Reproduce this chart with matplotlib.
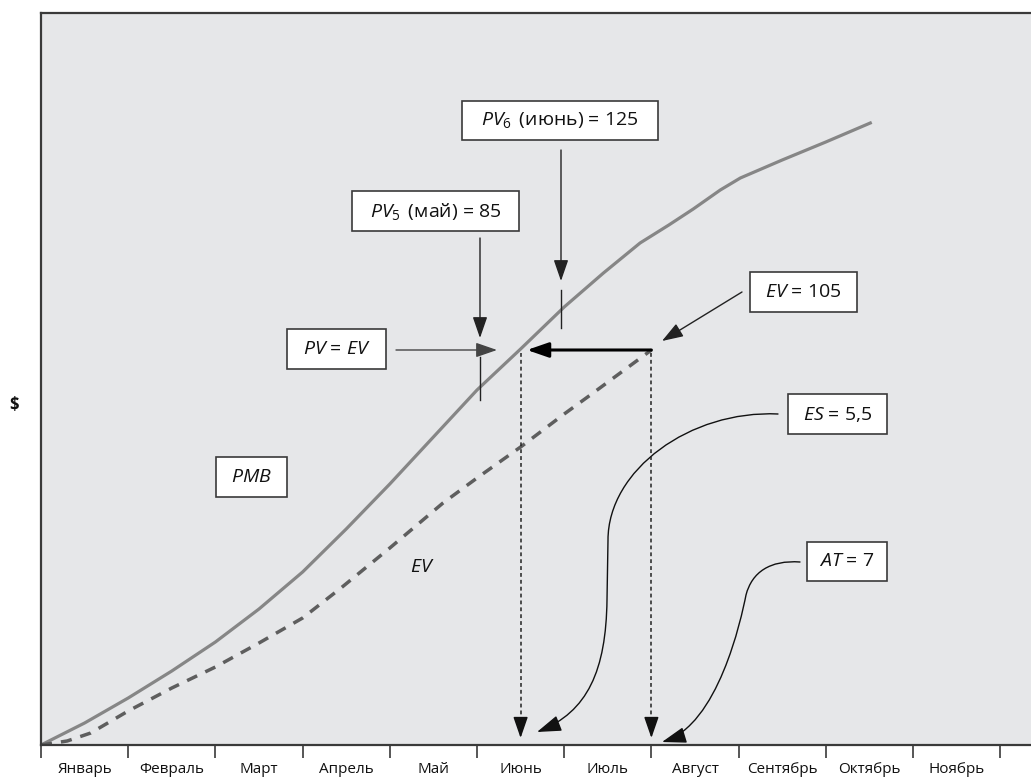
import matplotlib
matplotlib.use("Agg")
import matplotlib.pyplot as plt
from matplotlib.patches import Rectangle, FancyArrowPatch
from matplotlib.path import Path

plt.rcParams['font.family'] = ['Open Sans', 'DejaVu Sans']
plt.rcParams['mathtext.fontset'] = 'custom'
plt.rcParams['mathtext.rm'] = 'Open Sans'
plt.rcParams['mathtext.it'] = 'Open Sans:italic'

months = ["Январь", "Февраль", "Март", "Апрель", "Май", "Июнь",
          "Июль", "Август", "Сентябрь", "Октябрь", "Ноябрь"]

# плановая стоимость (PMB), месяцы от начала / условные единицы
pmb_x = [0, 0.5, 1, 1.5, 2, 2.5, 3, 3.5, 4, 4.5, 5, 5.5, 6, 6.45, 6.87,
         7.2, 7.48, 7.79, 8.02, 8.5, 9.0, 9.51]
pmb_y = [0, 22, 47, 74, 103, 136, 173, 216, 261, 308, 355, 396, 438, 472, 502,
         520, 536, 555, 567, 585, 603, 622]

# освоенный объем (EV)
ev_x = [0, 0.3, 0.57, 1, 1.5, 2, 2.5, 3, 3.44, 4, 4.61, 5, 5.5, 6, 6.3, 7]
ev_y = [0, 4, 12, 34, 57, 78, 102, 127, 157, 197, 242, 267, 298, 331, 350, 395]

es = 5.5
at = 7
ev_now = 395

fig = plt.figure(figsize=(10.31, 7.80), dpi=100)
ax = fig.add_axes([41 / 1031, 35 / 780, 990 / 1031, 732 / 780])
ax.set_facecolor('#e6e7e9')
ax.set_xlim(0, 990 / 87.2)
ax.set_ylim(0, 732)


def px(x, y):
    # пиксели картинки -> координаты данных
    return ((x - 41) / 87.2, 745 - y)


ax.plot(pmb_x, pmb_y, color='#868686', lw=2.3, solid_joinstyle='round')
ax.plot(ev_x, ev_y, color='#5e5e5e', lw=2.5, dashes=(3.2, 2.6))

# вертикальные пунктиры ES и AT
for xv in (es, at):
    ax.plot([xv, xv], [ev_now - 3, 24], color='#222222', lw=1.1, dashes=(2.5, 2))
    ax.annotate('', xy=(xv, 7), xytext=(xv, 26),
                arrowprops=dict(arrowstyle='-|>,head_length=1.3,head_width=0.45',
                                color='#111111', lw=1.1, mutation_scale=10,
                                shrinkA=0, shrinkB=0))

thin = dict(arrowstyle='-|>,head_length=1.3,head_width=0.45', color='#222222',
            lw=1.0, mutation_scale=10, shrinkA=0, shrinkB=0)

# PV5, PV6
ax.annotate('', xy=px(480, 338), xytext=px(480, 238), arrowprops=thin)
ax.plot(*zip(px(480, 357), px(480, 400)), color='#222222', lw=1.0)
ax.annotate('', xy=px(561, 281), xytext=px(561, 150), arrowprops=thin)
ax.plot(*zip(px(561, 290), px(561, 328)), color='#222222', lw=1.0)

# PV = EV
ax.annotate('', xy=px(497, 350), xytext=px(396, 350),
            arrowprops=dict(thin, color='#444444'))

# EV = 105
ax.annotate('', xy=px(662, 341), xytext=px(742, 292), arrowprops=thin)

# жирная стрелка от EV к PMB
ax.annotate('', xy=(px(527, 0)[0], ev_now), xytext=(at, ev_now),
            arrowprops=dict(arrowstyle='-|>,head_length=1.3,head_width=0.45',
                            color='black', lw=2.2, mutation_scale=10,
                            shrinkA=0, shrinkB=0))


def curve(pts, codes):
    verts = [px(*p) for p in pts]
    arr = FancyArrowPatch(path=Path(verts, codes),
                          arrowstyle='-|>,head_length=1.5,head_width=0.5',
                          mutation_scale=10, color='#111111', lw=1.0)
    ax.add_patch(arr)


C4 = Path.CURVE4
curve([(778, 414), (690, 410), (608, 470), (608, 540), (607, 600),
       (606, 670), (588, 712), (537, 732)],
      [Path.MOVETO, C4, C4, C4, Path.LINETO, C4, C4, C4])
curve([(800, 562), (770, 560), (752, 572), (746, 595),
       (741, 620), (718, 725), (662, 742)],
      [Path.MOVETO, C4, C4, C4, C4, C4, C4])


def box(x0, y0, x1, y1, label):
    (a, b), (c, d) = px(x0, y1), px(x1, y0)
    ax.add_patch(Rectangle((a, b), c - a, d - b, facecolor='white',
                           edgecolor='#3a3a3a', lw=1.2, zorder=5))
    ax.text((a + c) / 2, (b + d) / 2, label, ha='center', va='center',
            fontsize=14, zorder=6, color='#111111')


box(462, 101, 658, 140, r'$PV_6\,$ (июнь) = 125')
box(352, 191, 519, 231, r'$PV_5\,$ (май) = 85')
box(287, 329, 386, 369, r'$PV$ = $EV$')
box(750, 272, 857, 312, r'$EV$ = 105')
box(788, 394, 887, 434, r'$ES$ = 5,5')
box(807, 542, 887, 581, r'$AT$ = 7')
box(216, 457, 287, 497, r'$PMB$')
ax.text(*px(422, 567), r'$EV$', ha='center', va='center', fontsize=14,
        color='#111111')

# оси
for s in ('left', 'top', 'bottom'):
    ax.spines[s].set_color('#3a3a3a')
    ax.spines[s].set_linewidth(1.6)
ax.spines['right'].set_visible(False)

ax.set_xticks(range(12))
ax.set_xticklabels([])
ax.tick_params(axis='x', which='major', direction='out', length=9,
               width=1.2, color='#3a3a3a')
ax.set_xticks([i + 0.5 for i in range(len(months))], minor=True)
ax.set_xticklabels(months, minor=True, fontsize=11, color='#111111')
ax.tick_params(axis='x', which='minor', length=0, pad=12.5)
ax.set_yticks([])

fig.text(14 / 1031, 1 - 405 / 780, '$', fontsize=12, fontweight='bold',
         ha='center', va='center', color='#111111')

fig.savefig('out.png', dpi=100)
